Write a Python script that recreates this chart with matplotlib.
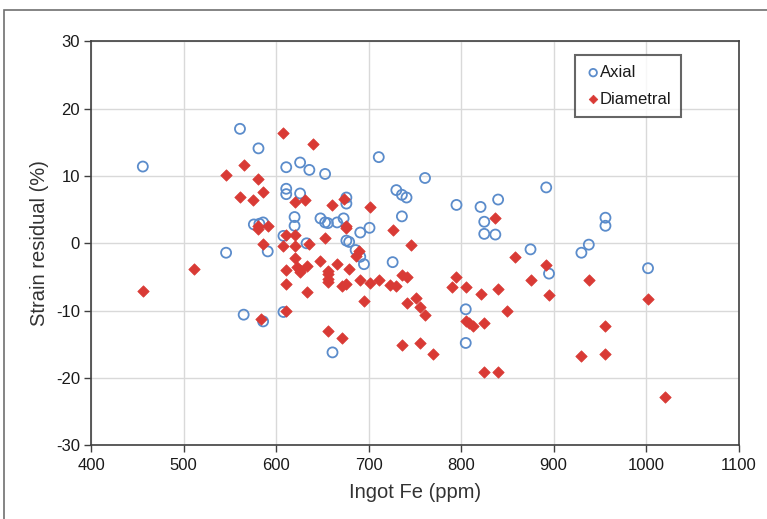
import matplotlib
matplotlib.use("Agg")
import matplotlib.pyplot as plt
from matplotlib.patches import Rectangle

plt.rcParams['font.family'] = ['Liberation Sans', 'DejaVu Sans']
plt.rcParams['axes.unicode_minus'] = False

axial_x = [456, 561, 581, 611, 626, 636, 653, 711, 761,
           611, 611, 626, 676, 676, 730, 736, 741, 795, 821, 840, 892,
           620, 620, 648, 653, 656, 666, 673, 736, 825, 825, 837, 956, 956,
           576, 582, 586,
           591, 546, 608, 633, 676, 679, 691, 701, 686, 691, 695, 726, 875, 938, 930, 895, 1002,
           565, 608, 586, 805, 805, 661]
axial_y = [11.4, 17.0, 14.1, 11.3, 12.0, 10.9, 10.3, 12.8, 9.7,
           8.1, 7.3, 7.4, 6.8, 5.9, 7.9, 7.2, 6.8, 5.7, 5.4, 6.5, 8.3,
           3.9, 2.6, 3.7, 3.1, 3.0, 3.1, 3.7, 4.0, 3.2, 1.4, 1.3, 3.8, 2.6,
           2.8, 2.9, 3.1,
           -1.2, -1.4, 1.1, 0.0, 0.4, 0.2, 1.6, 2.3, -1.0, -2.0, -3.1, -2.8, -0.9, -0.2, -1.4, -4.5, -3.7,
           -10.6, -10.2, -11.6, -9.8, -14.8, -16.2]

diametral_x = [456, 511, 546, 565, 561, 575, 581, 586, 581, 581, 591, 586, 584, 608, 640,
               620, 631, 661, 673, 701, 676, 676, 611, 620, 608, 620, 636, 653, 620, 623,
               626, 626, 633, 611, 611, 611, 633, 648, 656, 656, 656, 656, 666, 679, 671,
               676, 686, 690, 691, 701, 695, 711, 726, 723, 730, 736, 741, 746, 751, 741,
               756, 761, 736, 756, 770, 656, 671, 795, 790, 805, 821, 840, 837, 858, 875,
               892, 895, 850, 805, 809, 813, 825, 825, 840, 930, 956, 956, 938, 1002, 1020]
diametral_y = [-7.1, -3.8, 10.1, 11.7, 6.9, 6.5, 9.6, 7.6, 2.5, 2.1, 2.5, -0.1, -11.2, 16.4, 14.7,
               6.2, 6.5, 5.7, 6.6, 5.4, 2.6, 2.2, 1.2, 1.2, -0.4, -0.45, -0.1, 0.8, -2.2, -3.5,
               -3.9, -4.3, -3.3, -4.0, -6.1, -10.1, -7.3, -2.7, -4.1, -4.6, -5.7, -5.3, -3.0, -3.8, -6.3,
               -6.1, -1.9, -1.2, -5.5, -5.9, -8.6, -5.4, 2.0, -6.2, -6.3, -4.7, -5.0, -0.2, -8.1, -8.9,
               -9.5, -10.6, -15.1, -14.8, -16.5, -13.0, -14.0, -5.0, -6.5, -6.5, -7.5, -6.8, 3.7, -2.0, -5.4,
               -3.2, -7.7, -10.0, -11.6, -11.9, -12.3, -11.9, -19.1, -19.1, -16.7, -16.5, -12.3, -5.5, -8.3, -22.8]

x_ticks = [400, 500, 600, 700, 800, 900, 1000, 1100]
y_ticks = [-30, -20, -10, 0, 10, 20, 30]

W, H = 767, 519
fig = plt.figure(figsize=(W / 100, H / 100), dpi=100)
ax = fig.add_axes([91 / W, 1 - 445.3 / H, 647.7 / W, 404 / H])

# chart-area border (partly cropped)
fig.patches.append(Rectangle((4 / W, -0.1), 1.2, 1.1 - 9.5 / H, transform=fig.transFigure,
                             fill=False, edgecolor='#707070', linewidth=1.2, zorder=0))

ax.scatter(axial_x, axial_y, marker='o', s=52, facecolors='none', edgecolors='#5b8ccb',
           linewidths=1.3, label='Axial', zorder=3)
ax.scatter(diametral_x, diametral_y, marker='D', s=34, color='#d93a35', edgecolors='#d93a35',
           linewidths=0.5, label='Diametral', zorder=3)

ax.set_xlim(400, 1100)
ax.set_ylim(-30, 30)
ax.set_xticks(x_ticks)
ax.set_yticks(y_ticks)
ax.grid(True, color='#d9d9d9', linewidth=1.0, zorder=0)
ax.set_axisbelow(True)
for s in ax.spines.values():
    s.set_color('#404040')
    s.set_linewidth(1.2)
ax.tick_params(axis='both', direction='out', length=5, width=1, color='#404040',
               labelsize=12, labelcolor='#1a1a1a', pad=4)
ax.tick_params(axis='y', pad=3)

ax.set_xlabel('Ingot Fe (ppm)', fontsize=14.5, color='#333333', labelpad=7)
ax.set_ylabel('Strain residual (%)', fontsize=14.5, color='#333333', labelpad=5)

leg = ax.legend(loc='upper left', bbox_to_anchor=(0.747, 0.966), borderaxespad=0,
                fontsize=12, frameon=True, fancybox=False, handletextpad=-0.1,
                handlelength=1.0, labelspacing=0.7, borderpad=0.6, markerscale=0.75)
leg.get_frame().set_edgecolor('#404040')
leg.get_frame().set_linewidth(1.5)
for t in leg.get_texts():
    t.set_color('#1a1a1a')

fig.savefig('out.png', dpi=100)
